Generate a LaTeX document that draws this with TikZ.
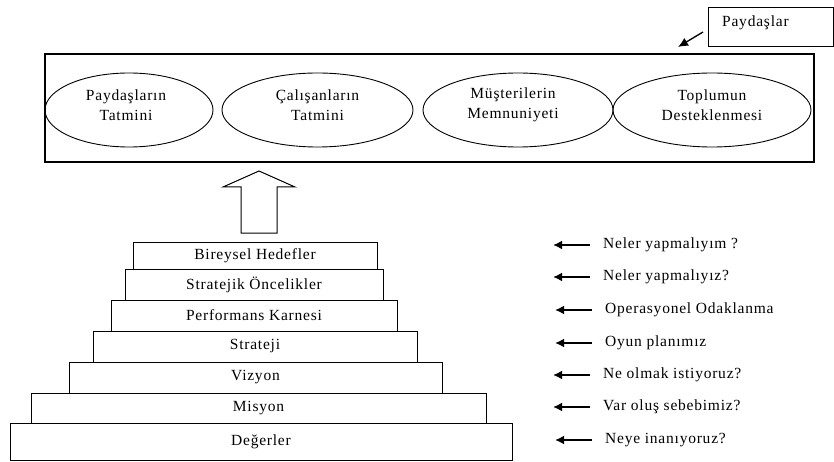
\documentclass[tikz,border=0pt]{standalone}
\usepackage{fontspec}
\setmainfont{Liberation Serif}[LetterSpace=5]
\usetikzlibrary{shapes.geometric,arrows.meta}
\begin{document}
\begin{tikzpicture}[x=1pt,y=-1pt,
  every node/.style={font=\fontsize{15.5}{19.5}\selectfont},
  stepbox/.style={draw,line width=1pt,inner sep=0pt},
  goal/.style={draw,ellipse,line width=0.9pt,inner sep=0pt,minimum height=74pt},
  question/.style={anchor=west,inner sep=0pt},
  qarrow/.style={line width=2pt,-{Latex[length=9pt,width=9pt]}},
  lead/.style={line width=1.3pt,-{Latex[length=10pt,width=9pt]}}]
\useasboundingbox (0,0) rectangle (834,462);

% stakeholder frame and its label box
\node[draw,line width=1.3pt,minimum width=769pt,minimum height=108pt,inner sep=0pt] (frame) at (429.5,108) {};
\node[draw,line width=1pt,minimum width=125pt,minimum height=39pt,inner sep=0pt] (pbox) at (770.5,27.5) {};
\node[anchor=west,inner sep=0pt] (plabel) at (722,23) {Paydaşlar};
\coordinate (ptail) at (703,32);
\coordinate (phead) at (678,47);
\draw[lead] (ptail) -- (phead);

% stakeholder expectations
\node[goal,minimum width=168pt] (e1) at (129,110) {};
\node[goal,minimum width=191pt] (e2) at (317.5,110) {};
\node[goal,minimum width=190pt] (e3) at (518,110) {};
\node[goal,minimum width=198pt] (e4) at (712,110) {};
\node[align=center] at (126,105) {Paydaşların\\Tatmini};
\node[align=center] at (317.5,105) {Çalışanların\\Tatmini};
\node[align=center] at (513,105) {Müşterilerin\\Memnuniyeti};
\node[align=center] at (712,105) {Toplumun\\Desteklenmesi};

% hollow upward arrow
\draw[line width=1pt] (241,233) -- (241,187) -- (223,187) -- (259,171)
  -- (295,187) -- (277,187) -- (277,233) -- cycle;

% pyramid of steps
\node[stepbox,minimum width=244pt,minimum height=27pt] (s1) at (255,255.5) {Bireysel Hedefler};
\node[stepbox,minimum width=258pt,minimum height=31pt] (s2) at (254,284.5) {Stratejik Öncelikler};
\node[stepbox,minimum width=286pt,minimum height=31pt] (s3) at (254,315.5) {Performans Karnesi};
\node[stepbox,minimum width=324pt,minimum height=31pt] (s4) at (255,346.5) {Strateji};
\node[stepbox,minimum width=373pt,minimum height=31pt] (s5) at (255.5,377.5) {Vizyon};
\node[stepbox,minimum width=455pt,minimum height=30pt] (s6) at (258.5,408) {Misyon};
\node[stepbox,minimum width=502pt,minimum height=37pt] (s7) at (261,441.5) {Değerler};

% guiding questions
\node[question] (q1) at (603,245) {Neler yapmalıyım ?};
\node[question] (q2) at (603,277) {Neler yapmalıyız?};
\node[question] (q3) at (605,310) {Operasyonel Odaklanma};
\node[question] (q4) at (605,343) {Oyun planımız};
\node[question] (q5) at (603,375) {Ne olmak istiyoruz?};
\node[question] (q6) at (603,407) {Var oluş sebebimiz?};
\node[question] (q7) at (605,440) {Neye inanıyoruz?};
\foreach \q in {q1,q2,q3,q4,q5,q6,q7}
  \draw[qarrow] ([xshift=-13pt]\q.west) -- ++(-37,0);
\end{tikzpicture}
\end{document}
